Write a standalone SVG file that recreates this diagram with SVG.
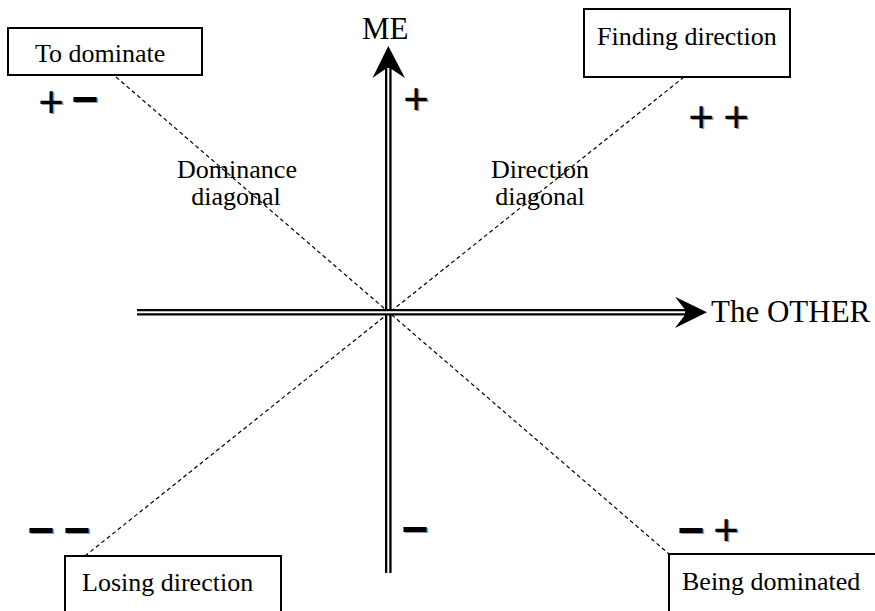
<svg xmlns="http://www.w3.org/2000/svg" width="875" height="611" viewBox="0 0 875 611">
<style>
  .box { fill: #fff; stroke: #000; stroke-width: 2; }
  .lbl { font-family: "Liberation Serif", "Times New Roman", serif; font-size: 26px; fill: #000; }
  .axl { font-family: "Liberation Serif", "Times New Roman", serif; font-size: 31px; fill: #000; }
  .diag { stroke: #000; stroke-width: 1.2; stroke-dasharray: 4 3; fill: none; }
  .axo { stroke: #000; stroke-width: 6.6; fill: none; }
  .axi { stroke: #fff; stroke-width: 2; fill: none; }
  .sgn { font-family: "Liberation Sans", Arial, sans-serif; font-size: 44px; fill: #000; text-anchor: middle; }
  .sgs { font-family: "Liberation Sans", Arial, sans-serif; font-size: 44px; fill: #9a9a9a; text-anchor: middle; }
  .mn { font-family: "Liberation Sans", Arial, sans-serif; font-weight: bold; font-size: 46px; fill: #000; text-anchor: middle; }
  .mns { font-family: "Liberation Sans", Arial, sans-serif; font-weight: bold; font-size: 46px; fill: #9a9a9a; text-anchor: middle; }
</style>
<rect width="875" height="611" fill="#fff"/>
<g id="connectors">
  <line class="diag" x1="116" y1="77" x2="669" y2="554"/>
  <line class="diag" x1="85" y1="556" x2="684" y2="77"/>
  <g id="axis-me">
    <line class="axo" x1="388.3" y1="66" x2="388.3" y2="573"/>
    <line class="axi" x1="388.3" y1="68" x2="388.3" y2="573"/>
    <polygon points="388.3,46 405,78 388.3,67 372.5,78" fill="#000"/>
  </g>
  <g id="axis-other">
    <line class="axo" x1="137" y1="312.2" x2="687" y2="312.2"/>
    <line class="axi" x1="137" y1="312.2" x2="685" y2="312.2"/>
    <polygon points="707,312.2 675,296.7 687,312.2 675,328" fill="#000"/>
  </g>
</g>
<g id="label-me"><text class="axl" x="362" y="39">ME</text></g>
<g id="label-other"><text class="axl" x="711" y="322">The OTHER</text></g>
<g id="node-to-dominate">
  <rect class="box" x="8" y="28" width="194" height="47"/>
  <text class="lbl" x="35" y="62">To dominate</text>
</g>
<g id="node-finding-direction">
  <rect class="box" x="584" y="9" width="206" height="68"/>
  <text class="lbl" x="597" y="45">Finding direction</text>
</g>
<g id="node-losing-direction">
  <rect class="box" x="65" y="556" width="216" height="60"/>
  <text class="lbl" x="82" y="591">Losing direction</text>
</g>
<g id="node-being-dominated">
  <rect class="box" x="669" y="554" width="215" height="62"/>
  <text class="lbl" x="682" y="590">Being dominated</text>
</g>
<g id="label-dominance">
  <text class="lbl" x="237" y="178" text-anchor="middle">Dominance</text>
  <text class="lbl" x="236" y="205" text-anchor="middle">diagonal</text>
</g>
<g id="label-direction">
  <text class="lbl" x="540" y="178" text-anchor="middle">Direction</text>
  <text class="lbl" x="540" y="205" text-anchor="middle">diagonal</text>
</g>
<g id="signs">
  <text class="sgs" x="52.5" y="118">+</text><text class="sgn" x="51" y="117">+</text>
  <text class="mns" x="86.5" y="116">−</text><text class="mn" x="85" y="115">−</text>
  <text class="sgs" x="417.5" y="115">+</text><text class="sgn" x="416" y="114">+</text>
  <text class="sgs" x="702.5" y="133">+</text><text class="sgn" x="701" y="132">+</text>
  <text class="sgs" x="737.5" y="133">+</text><text class="sgn" x="736" y="132">+</text>
  <text class="mns" x="42.5" y="547">−</text><text class="mn" x="41" y="546">−</text>
  <text class="mns" x="78.5" y="547">−</text><text class="mn" x="77" y="546">−</text>
  <text class="mns" x="416.5" y="545.5">−</text><text class="mn" x="415" y="544.5">−</text>
  <text class="mns" x="692.5" y="547">−</text><text class="mn" x="691" y="546">−</text>
  <text class="sgs" x="727.5" y="546">+</text><text class="sgn" x="726" y="545">+</text>
</g>
</svg>
